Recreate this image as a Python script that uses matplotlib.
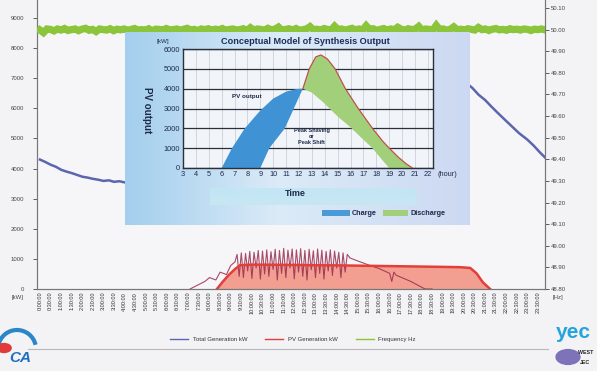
import numpy as np
import matplotlib.pyplot as plt
from matplotlib.patches import Rectangle, Circle, Arc
from matplotlib.lines import Line2D

plt.rcParams['font.family'] = ['Liberation Sans', 'DejaVu Sans']

# ---------------- daily record (hours of day) ----------------
total_hours = [0, 0.25, 0.5, 0.75, 1.0, 1.25, 1.5, 1.75, 2.0, 2.25, 2.5, 2.75, 3.0,
               3.25, 3.5, 3.75, 4.0, 5.0, 6.0, 7.0, 8.0, 9.0, 12.0, 15.0, 18.0, 19.5,
               20.4, 20.7, 21.0, 21.3, 21.6, 22.0, 22.3, 22.6, 23.0, 23.3, 23.6, 23.83]
total_kw = [4300, 4220, 4130, 4060, 3960, 3900, 3850, 3790, 3730, 3700, 3660, 3630, 3590,
            3610, 3560, 3580, 3540, 3700, 4500, 5800, 6800, 7400, 7800, 7900, 7600, 7200,
            6680, 6450, 6280, 6060, 5850, 5580, 5380, 5180, 4960, 4760, 4530, 4370]

pv_hours = [8.35, 8.6, 8.9, 9.2, 9.44, 10, 11, 12, 13, 14, 15, 16, 17, 18, 19, 19.8,
            20.3, 20.6, 20.9, 21.24]
pv_kw = [0, 220, 460, 660, 790, 810, 805, 800, 790, 785, 775, 765, 755, 745, 735, 725,
         700, 520, 220, 0]

# spiky raw output of the array
raw_hours = [7.08, 7.5, 7.8, 8.0, 8.3, 8.5, 8.8, 9.0, 9.2,
             9.3, 9.4, 9.5, 9.6, 9.7, 9.8, 9.9, 10.0, 10.1, 10.2, 10.3, 10.4, 10.5, 10.6,
             10.7, 10.8, 10.9, 11.0, 11.1, 11.2, 11.3, 11.4, 11.5, 11.6, 11.7, 11.8, 11.9,
             12.0, 12.1, 12.2, 12.3, 12.4, 12.5, 12.6, 12.7, 12.8, 12.9, 13.0, 13.1, 13.2,
             13.3, 13.4, 13.5, 13.6, 13.7, 13.8, 13.9, 14.0, 14.1, 14.2, 14.3, 14.4, 14.5,
             14.63, 15.0, 15.5, 16.0, 16.5, 16.6, 16.7, 16.8, 17.0, 17.5, 18.17, 18.5]
raw_kw = [0, 150, 260, 380, 300, 560, 480, 780, 900,
          1150, 420, 1200, 380, 1180, 600, 1250, 350, 1220, 700, 1280, 330, 1260, 500,
          1300, 420, 1240, 650, 1320, 300, 1280, 520, 1350, 380, 1290, 700, 1330, 340,
          1300, 560, 1340, 420, 1280, 300, 1320, 640, 1270, 380, 1330, 520, 1290, 330,
          1250, 600, 1300, 450, 1260, 700, 1220, 380, 1200, 560, 1150,
          1030, 930, 800, 680, 520, 250, 560, 460, 400, 250, 0, 0]

# grid frequency, deviation from 50 Hz in mHz, one value every 10 minutes
freq_dev_mhz = [-2, -14, 3, 1, -6, 3, -2, 5, -4, 0, 3, -5, 2, 6, -3, 1, -9, 3, 0, -2,
                4, -5, 2, -1, 3, -4, 1, 5, -3, 0, -2, 4, -6, 2, 1, -3, 5, -1, 0, 3,
                -4, 2, 6, -2, 1, -5, 3, 0, 4, -3, 2, -1, 5, -4, 1, 3, -2, 0, 4, -5,
                9, -2, 3, 1, -4, 6, -1, 2, 12, -3, 1, 4, -2, 5, -4, 0, 3, 14, -1, 2,
                -3, 5, 1, -2, 16, 0, 3, -4, 2, 6, -1, 3, -2, 18, 0, 4, -3, 1, 5, -2,
                3, -1, 11, 2, -4, 4, 0, 2, 15, -3, 3, 1, -2, 20, 0, 3, -4, 2, 13, -1,
                2, -3, 4, 1, -2, 10, 0, 3, -4, 2, 5, -1, 1, -3, 4, 0, 2, -2, 3, 1,
                -4, 2, 0, 3, -1]
freq_hours = np.linspace(0, 23.83, len(freq_dev_mhz))
freq_hz = 50.0 + np.array(freq_dev_mhz) / 1000.0

time_ticks = np.arange(0, 24, 0.5)
time_labels = ['%d:%02d:00' % (int(t), int(round((t % 1) * 60))) for t in time_ticks]

# ---------------- conceptual model (inset) ----------------
model_pv_hours = [6.0, 6.8, 7.8, 9.0, 10.0, 11.0, 11.8, 12.3, 13.0, 13.9, 15.0, 16.0,
                  16.8, 17.7, 18.4, 19.0]
model_pv_kw = [0, 1000, 2000, 2900, 3500, 3850, 3980, 4000, 3800, 3300, 2600, 2050,
               1550, 1000, 450, 0]
model_out_hours = [9.0, 9.7, 10.9, 11.6, 12.3, 12.8, 13.3, 13.7, 14.2, 14.8, 15.6, 16.6,
                   17.7, 18.5, 19.0, 19.7, 20.3, 20.8]
model_out_kw = [0, 1000, 2000, 3000, 4000, 5000, 5600, 5700, 5500, 5000, 4000, 3000,
                2000, 1350, 1000, 550, 220, 0]
model_cross = 4  # index in model_out where charge turns into discharge
model_yticks = [0, 1000, 2000, 3000, 4000, 5000, 6000]
model_xticks = list(range(3, 23))

fig = plt.figure(figsize=(5.97, 3.71), dpi=100)
fig.patch.set_facecolor('#f3f2f5')

ax = fig.add_axes([37 / 597, 1 - 289 / 371, 508 / 597, 289 / 371])
ax.set_facecolor('#f6f5f8')
ax2 = ax.twinx()

ax.plot(total_hours, total_kw, color='#5b66ad', lw=1.8, zorder=3)
ax.fill_between(pv_hours, 0, pv_kw, color='#f2907f', alpha=0.85, lw=0, zorder=2)
ax.plot(pv_hours, pv_kw, color='#e23f3a', lw=1.8, zorder=4)
ax.plot(raw_hours, raw_kw, color='#9a2d4e', lw=0.8, alpha=0.85, zorder=3)
ax2.plot(freq_hours, freq_hz, color='#8cc43c', lw=5.2, solid_joinstyle='miter', zorder=3)

ax.set_xlim(-0.14, 23.83)
ax.set_ylim(0, 9600)
ax2.set_ylim(48.8, 50.137)
ax.set_yticks(range(0, 9001, 1000))
ax.set_yticklabels([str(v) for v in range(0, 9001, 1000)])
ax2.set_yticks(np.round(np.arange(48.8, 50.11, 0.1), 2))
ax2.set_yticklabels(['%.2f' % v for v in np.arange(48.8, 50.11, 0.1)])
ax.set_xticks(time_ticks)
ax.set_xticklabels(time_labels, rotation=90, fontsize=4.0, color='#333333')
ax.tick_params(axis='x', length=0, pad=2)
ax.tick_params(axis='y', labelsize=4.3, colors='#444444', length=3, pad=6, width=0.6)
ax2.tick_params(axis='y', labelsize=4.3, colors='#444444', length=3, pad=1.5, width=0.6)
for a in (ax, ax2):
    a.spines['top'].set_visible(False)
    for s in ('left', 'right', 'bottom'):
        a.spines[s].set_color('#777777')
        a.spines[s].set_linewidth(0.8)

fig.text(12 / 597, 1 - 298 / 371, '[kW]', fontsize=4.3, color='#444444', va='center')
fig.text(553 / 597, 1 - 298 / 371, '[Hz]', fontsize=4.3, color='#444444', va='center')

handles = [Line2D([], [], color='#5b66ad', lw=1.0),
           Line2D([], [], color='#e23f3a', lw=1.0),
           Line2D([], [], color='#8cc43c', lw=1.0)]
fig.legend(handles, ['Total Generation kW', 'PV Generation kW', 'Frequency Hz'],
           loc='center', bbox_to_anchor=(293 / 597, 1 - 339 / 371), ncol=3,
           frameon=False, fontsize=4.3, handlelength=3, columnspacing=3,
           labelcolor='#333333')
fig.add_artist(Line2D([28 / 597, 548 / 597], [1 - 349 / 371] * 2, color='#b8b8bc',
                      lw=0.8))

# logos
fig.add_artist(Arc((17 / 597, 1 - 349 / 371), 38 / 597, 38 / 371, theta1=20,
                   theta2=160, color='#2a86c8', lw=3))
fig.add_artist(Circle((4 / 597, 1 - 348 / 371), 0.012, color='#e03a3a'))
fig.text(9 / 597, 1 - 358 / 371, 'CA', fontsize=11, fontweight='bold', style='italic',
         color='#1f6fbf', va='center')
fig.text(556 / 597, 1 - 333 / 371, 'yec', fontsize=15, fontweight='bold',
         color='#24a4dc', va='center')
fig.add_artist(Circle((568 / 597, 1 - 357 / 371), 0.02, color='#7e72b8'))
fig.text(578 / 597, 1 - 352 / 371, 'WEST', fontsize=3.8, fontweight='bold',
         color='#222222', va='center')
fig.text(580 / 597, 1 - 362 / 371, 'JEC', fontsize=3.8, fontweight='bold',
         color='#222222', va='center')

# ---------------- inset panel ----------------
panel = fig.add_axes([125 / 597, 1 - 225 / 371, 345 / 597, 193 / 371])
panel.axis('off')
c_left = np.array([0.64, 0.81, 0.93])
c_mid = np.array([0.86, 0.92, 0.97])
c_right = np.array([0.80, 0.85, 0.95])
u = np.linspace(0, 1, 200)[None, :, None]
grad = np.where(u < 0.45, c_left + (c_mid - c_left) * (u / 0.45),
                c_mid + (c_right - c_mid) * ((u - 0.45) / 0.55))
grad = np.repeat(grad, 2, axis=0)
panel.imshow(grad, extent=[0, 1, 0, 1], aspect='auto')
panel.set_xlim(0, 1)
panel.set_ylim(0, 1)
# band behind the axis title
panel.add_patch(Rectangle((85 / 345, 20 / 193), 207 / 345, 10 / 193,
                          color='#c6e6f4', lw=0))

inner = fig.add_axes([183 / 597, 1 - 168 / 371, 250 / 597, 119 / 371])
inner.set_facecolor('#f1f5fa')
inner.set_xlim(3, 22.4)
inner.set_ylim(0, 6000)

blue_x = model_pv_hours[:8] + model_out_hours[model_cross::-1]
blue_y = model_pv_kw[:8] + model_out_kw[model_cross::-1]
inner.fill(blue_x, blue_y, color='#3f92d4', lw=0, zorder=2)
green_x = model_out_hours[model_cross:] + model_pv_hours[:6:-1]
green_y = model_out_kw[model_cross:] + model_pv_kw[:6:-1]
inner.fill(green_x, green_y, color='#a2d07a', lw=0, zorder=2)
inner.plot(model_out_hours[model_cross:], model_out_kw[model_cross:], color='#c0504d',
           lw=0.9, zorder=3)

inner.set_xticks(model_xticks)
inner.set_yticks(model_yticks)
inner.set_xticklabels([str(v) for v in model_xticks])
inner.set_yticklabels([str(v) for v in model_yticks])
inner.tick_params(length=0, labelsize=5.3, colors='#1e2a4a', pad=2)
inner.grid(axis='x', color='#c4c8d0', lw=0.5)
inner.grid(axis='y', color='#2b2f3a', lw=0.9)
inner.set_axisbelow(True)
for s in inner.spines.values():
    s.set_color('#2b2f3a')
    s.set_linewidth(1.0)

inner.text(6.8, 3600, 'PV output', fontsize=4.5, fontweight='bold', color='#1e2a4a',
           va='center')
inner.text(13.0, 1600, 'Peak Shaving\nor\nPeak Shift', fontsize=4.0, fontweight='bold',
           color='#1e2a4a', ha='center', va='center', linespacing=1.2)

fig.text(305 / 597, 1 - 42 / 371, 'Conceptual Model of Synthesis Output', fontsize=6.6,
         fontweight='bold', color='#1f2d5a', ha='center', va='center')
fig.text(163 / 597, 1 - 41 / 371, '[kW]', fontsize=4.5, color='#1e2a4a', ha='center',
         va='center')
fig.text(147 / 597, 1 - 110 / 371, 'PV output', fontsize=7, fontweight='bold',
         color='#1e2a4a', rotation=-90, ha='center', va='center')
fig.text(438 / 597, 1 - 175 / 371, '(hour)', fontsize=5.3, color='#1e2a4a', va='center')
panel.add_patch(Rectangle((85 / 345, 28 / 193), 207 / 345, 9 / 193,
                          color='#c2e6f4', lw=0, alpha=0.9))
fig.text(295 / 597, 1 - 193 / 371, 'Time', fontsize=6.5, fontweight='bold',
         color='#1e2a4a', ha='center', va='center')

panel.add_patch(Rectangle((197 / 345, 9 / 193), 28 / 345, 6 / 193, color='#4a9ad8',
                          lw=0))
panel.add_patch(Rectangle((258 / 345, 9 / 193), 25 / 345, 6 / 193, color='#a2d07a',
                          lw=0))
fig.text(352 / 597, 1 - 214 / 371, 'Charge', fontsize=5.2, fontweight='bold',
         color='#1e2a4a', va='center')
fig.text(410 / 597, 1 - 214 / 371, 'Discharge', fontsize=5.2, fontweight='bold',
         color='#1e2a4a', va='center')

fig.savefig('out.png', dpi=100, facecolor=fig.get_facecolor())
